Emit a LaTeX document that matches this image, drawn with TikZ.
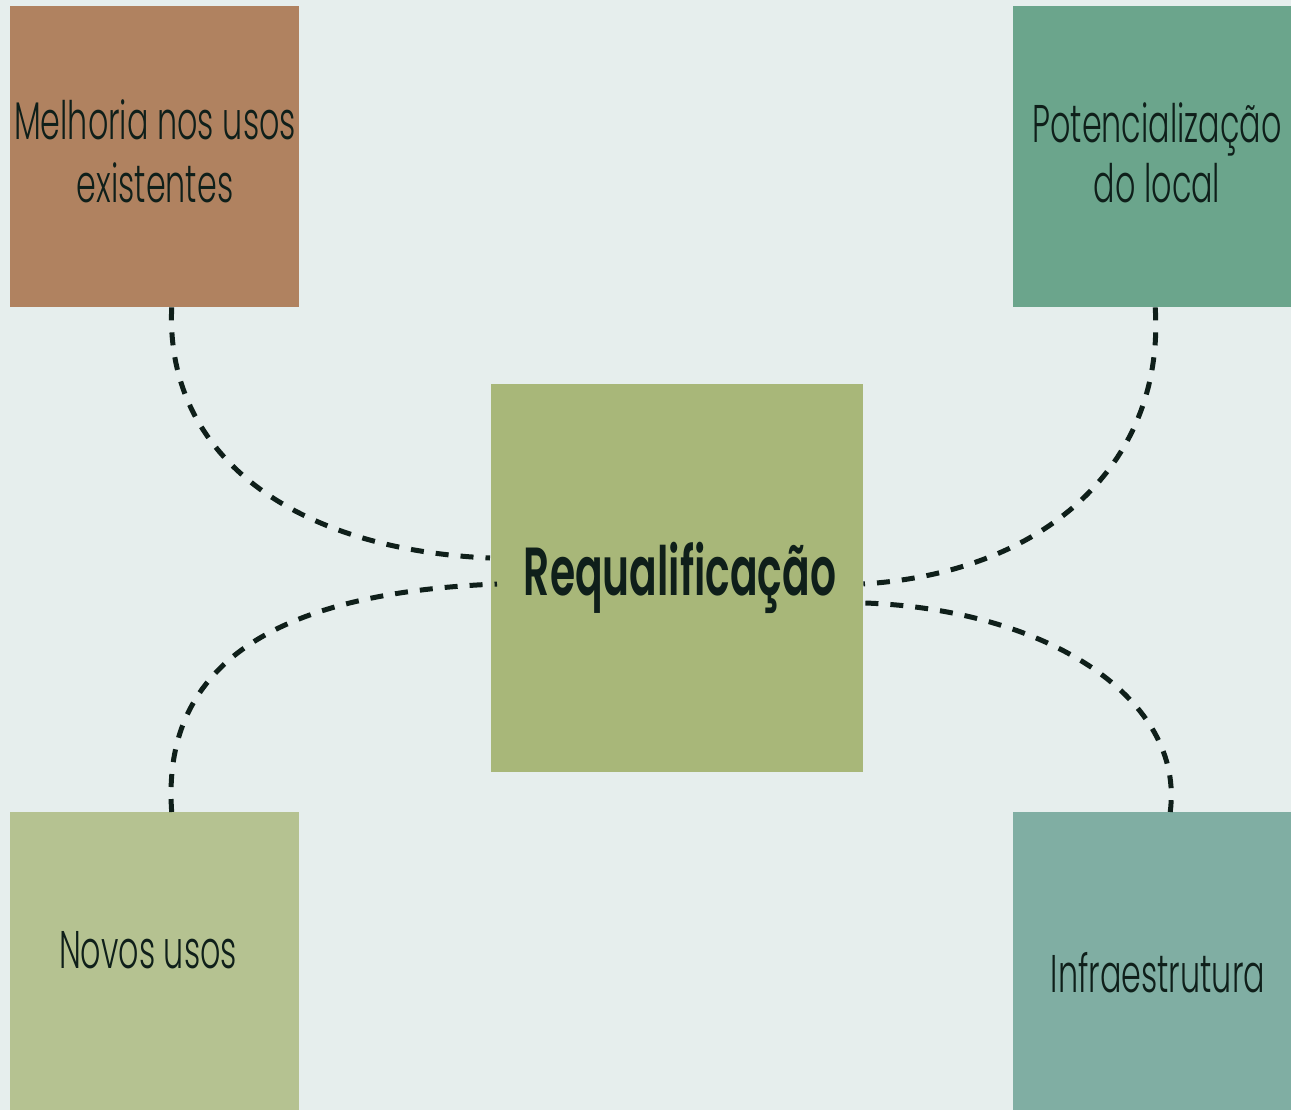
\documentclass[tikz,border=0pt]{standalone}
\usepackage{fontspec}
\setmainfont{Poppins}[UprightFont=* Light,BoldFont=* SemiBold,FakeStretch=0.6]
\definecolor{bgc}{HTML}{E6EEED}
\definecolor{brownbox}{HTML}{B08260}
\definecolor{tealbox}{HTML}{6BA58C}
\definecolor{olivebox}{HTML}{A8B779}
\definecolor{sagebox}{HTML}{B5C291}
\definecolor{mintbox}{HTML}{80AEA3}
\definecolor{ink}{HTML}{0F1F1A}
\begin{document}
\begin{tikzpicture}[x=1pt,y=-1pt,
  box/.style={draw=none,inner sep=0pt,anchor=north west},
  lbl/.style={text=ink,anchor=base,inner sep=0pt,font=\fontsize{53}{63}\selectfont},
  link/.style={draw=ink,line width=5pt,dash pattern=on 13pt off 12pt}]
\fill[bgc] (0,0) rectangle (1291,1110);
\useasboundingbox (0,0) rectangle (1291,1110);
% boxes
\node[box,fill=brownbox,minimum width=289pt,minimum height=301pt] (tl) at (10,6) {};
\node[box,fill=tealbox,minimum width=278pt,minimum height=301pt] (tr) at (1013,6) {};
\node[box,fill=olivebox,minimum width=372pt,minimum height=388pt] (c) at (491,384) {};
\node[box,fill=sagebox,minimum width=289pt,minimum height=298pt] (bl) at (10,812) {};
\node[box,fill=mintbox,minimum width=278pt,minimum height=298pt] (br) at (1013,812) {};
% labels
\node[lbl] (tl1) at (155,140) {Melhoria nos usos};
\node[lbl] (tl2) at (155,203) {existentes};
\node[lbl] (tr1) at (1157,143) {Potencialização};
\node[lbl] (tr2) at (1157,203) {do local};
\node[lbl,font=\fontsize{68}{80}\selectfont\bfseries] (ct) at (680,595) {Requalificação};
\node[lbl] (blt) at (148,968) {Novos usos};
\node[lbl] (brt) at (1158,992) {Infraestrutura};
% connector end points
\coordinate (a1) at ([xshift=17pt]tl.south);
\coordinate (a2) at ([xshift=-1pt,yshift=-174pt]c.north west);
\coordinate (b1) at ([xshift=17pt]bl.north);
\coordinate (b2) at ([xshift=6pt,yshift=-200pt]c.north west);
\coordinate (c1) at ([xshift=3pt]tr.south);
\coordinate (c2) at ([yshift=-200pt]c.north east);
\coordinate (d1) at ([xshift=18pt]br.north);
\coordinate (d2) at ([xshift=2pt,yshift=-219pt]c.north east);
% connectors
\draw[link] (a1) .. controls (165,460) and (300,550) .. (a2);
\draw[link] (b1) .. controls (160,650) and (300,592) .. (b2);
\draw[link] (c1) .. controls (1165,460) and (1050,572) .. (c2);
\draw[link] (d2) .. controls (1050,610) and (1185,700) .. (d1);
\end{tikzpicture}
\end{document}
